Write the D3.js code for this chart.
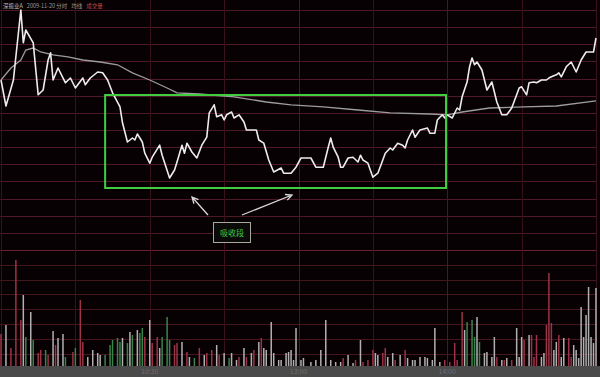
<!DOCTYPE html>
<html>
<head>
<meta charset="utf-8">
<script src="https://cdn.jsdelivr.net/npm/d3@7/dist/d3.min.js"></script>
<style>
  html, body { margin: 0; padding: 0; background: #070104; }
  svg { display: block; }
  text { font-family: "Noto Sans CJK SC", "Noto Sans", sans-serif; }
</style>
</head>
<body>
<svg id="chart" width="600" height="377"></svg>
<script>
const svg = d3.select("svg"),
    width = +svg.attr("width"),
    height = +svg.attr("height");

// intraday price, minute of session (0..240) and % change from prior close
const priceMinute = [0,2,5,8,9,10,13,15,17,19,20,21,23,26,28,30,33,34,36,39,41,43,45,48,49,51,53,54,55,57,58,60,61,64,65,68,70,71,73,74,75,77,79,81,83,84,86,87,89,90,91,93,94,96,98,99,103,104,106,108,110,113,114,117,119,121,123,125,127,130,132,133,134,136,137,138,140,142,144,145,146,148,150,152,154,155,157,158,160,162,163,164,166,167,169,172,173,175,176,178,179,180,182,184,185,186,188,189,190,191,192,194,196,198,199,200,202,204,206,208,209,210,212,213,215,216,218,220,221,222,224,225,226,228,230,232,234,236,239,240];
const priceValue = [1.25,0.60,1.25,3.00,2.18,2.50,2.18,0.88,1.00,1.75,1.93,1.25,1.55,1.18,1.30,1.05,1.30,1.13,1.30,1.45,1.43,1.25,0.93,0.58,0.18,-0.30,-0.20,-0.25,-0.10,-0.30,-0.58,-0.83,-0.68,-0.38,-0.63,-1.20,-1.00,-0.80,-0.38,-0.58,-0.33,-0.55,-0.70,-0.38,-0.18,0.43,0.63,0.33,0.38,0.25,0.38,0.45,0.30,0.38,0.20,0.00,0.00,-0.25,-0.33,-0.75,-1.05,-0.95,-1.08,-1.08,-0.93,-0.70,-0.70,-0.70,-0.93,-0.93,-0.43,-0.20,-0.43,-0.68,-0.93,-0.93,-0.70,-0.68,-0.80,-0.63,-0.75,-0.83,-1.18,-1.08,-0.75,-0.58,-0.45,-0.50,-0.33,-0.38,-0.45,-0.25,0.00,-0.18,0.00,0.05,-0.08,-0.08,0.25,0.38,0.30,0.38,0.30,0.55,0.50,0.83,1.20,1.58,1.80,1.63,1.70,1.50,1.00,1.20,0.95,0.70,0.38,0.38,0.55,0.88,1.05,1.08,0.88,1.18,1.20,1.18,1.25,1.25,1.30,1.33,1.38,1.43,1.33,1.58,1.70,1.45,1.75,1.95,1.95,2.30];

// average price line
const avgMinute = [0,4,8,10,13,16,21,27,33,40,47,53,60,67,71,80,94,107,117,130,144,157,173,180,186,197,211,224,240];
const avgValue = [1.25,1.55,1.75,2.00,2.05,1.95,1.88,1.83,1.75,1.70,1.63,1.43,1.25,1.05,0.93,0.90,0.83,0.70,0.63,0.58,0.50,0.43,0.40,0.38,0.45,0.55,0.58,0.60,0.73];

// volume bars: minute, volume, colour (r = up, g = down, w = flat)
const volMinute = [0,2,4,6,8,9,10,12,13,15,16,18,19,21,22,23,25,26,29,30,32,33,35,37,39,40,42,44,45,47,48,49,51,52,53,55,56,57,58,60,61,63,64,65,67,68,70,71,73,75,76,78,80,82,83,85,87,88,90,92,93,95,96,98,99,101,102,104,105,106,107,109,110,112,113,115,116,117,118,119,121,122,125,127,129,131,133,135,137,138,140,142,143,145,146,148,150,151,152,154,155,156,158,159,161,163,164,166,167,169,171,172,174,175,177,179,181,183,184,186,187,188,190,191,192,193,195,196,198,199,200,202,203,204,206,208,209,210,211,213,214,215,216,218,219,220,221,222,223,224,225,226,227,229,230,231,232,233,234,235,236,237,238,239,240];
const volValue = [32,41,18,106,46,71,29,54,26,13,16,16,11,35,21,28,32,9,14,18,66,24,9,16,13,11,11,21,26,28,24,28,23,34,31,36,33,38,29,46,23,29,18,29,49,26,21,23,24,14,9,8,18,11,13,16,21,11,13,8,13,6,9,18,9,13,16,24,28,18,16,44,13,6,6,13,14,16,6,38,6,8,4,6,16,46,6,4,4,8,11,3,6,26,4,6,16,13,11,13,18,9,13,6,11,16,8,6,6,9,9,8,6,38,4,6,4,23,6,54,36,44,46,29,49,24,13,14,9,29,9,6,6,8,6,38,9,29,26,31,31,9,31,9,13,41,93,43,16,24,31,9,28,28,9,21,16,8,59,29,51,79,29,23,78];
const volColor = "rwrrrwgwgrrgrwrwwgrgrrwwwwgggggwgwgwggrwrrwgggrrwrwgrwrrwrwgwwrwrwrwrwwwwwwwwwwwwwwwwwwwwrwwrwrrrwwrrwwrwrwwwwwwwwwrrrrrwgggwgwwwwrwrwrwwwrwrrrwwrrrwwrwwrrwwwww";

// time axis labels
const timeTicks = [60, 120, 180];
const timeLabels = ["10:30", "13:00", "14:00"];

// header
const headerParts = ["深振业A", "2009-11-20 分时", "均线", "成交量"];

// consolidation box (minutes / %), note label
const boxMinutes = [42, 179.5];
const boxValues = [0.875, -1.45];
const noteText = "吸收段";

const x = d3.scaleLinear().domain([0, 240]).range([1, 596]);
const y = d3.scaleLinear().domain([-3, 3]).range([250, 10]);
const yVol = d3.scaleLinear().domain([0, 116]).range([366, 250]);

svg.append("rect")
    .attr("width", width).attr("height", height)
    .attr("fill", "#070104");

const gGrid = svg.append("g");
const gVol = svg.append("g");
const gLines = svg.append("g");
const gNote = svg.append("g");

// horizontal grid, price pane
gGrid.selectAll(".hp")
    .data(d3.range(15).map(i => -3 + i * 6 / 14))
    .enter().append("line")
    .attr("x1", 0).attr("x2", 597)
    .attr("y1", d => Math.round(y(d)) + 0.5).attr("y2", d => Math.round(y(d)) + 0.5)
    .attr("stroke", (d, i) => i == 0 ? "#6a2232" : "#4e1926")
    .attr("stroke-width", 1);

// horizontal grid, volume pane
gGrid.selectAll(".hv")
    .data(d3.range(1, 8).map(k => 116 - k * 14.8))
    .enter().append("line")
    .attr("x1", 0).attr("x2", 597)
    .attr("y1", d => Math.round(yVol(d)) + 0.5).attr("y2", d => Math.round(yVol(d)) + 0.5)
    .attr("stroke", "#46161f")
    .attr("stroke-width", 1);

// vertical grid
gGrid.selectAll(".v")
    .data(d3.range(0, 241, 30))
    .enter().append("line")
    .attr("x1", d => Math.round(x(d)) + 0.5).attr("x2", d => Math.round(x(d)) + 0.5)
    .attr("y1", 0).attr("y2", 366)
    .attr("stroke", d => (d == 120 || d == 180) ? "#4a1822" : "#38111b")
    .attr("stroke-width", 1);

// volume
gVol.selectAll("rect")
    .data(volMinute.map((m, i) => ({m: m, v: volValue[i], c: volColor[i]})))
    .enter().append("rect")
    .attr("x", d => x(d.m) - 0.75)
    .attr("width", 1.5)
    .attr("y", d => yVol(d.v))
    .attr("height", d => yVol(0) - yVol(d.v))
    .attr("fill", d => d.c == "r" ? "#9a3446" : d.c == "g" ? "#3a844b" : "#b0b0b0");

// bottom time strip
svg.append("rect")
    .attr("x", 0).attr("y", 366).attr("width", width).attr("height", 11)
    .attr("fill", "#4a4a4a");
svg.selectAll(".tl")
    .data(timeTicks)
    .enter().append("text")
    .attr("x", d => x(d)).attr("y", 374)
    .attr("text-anchor", "middle")
    .attr("font-size", 7)
    .attr("fill", "#6e6e6e")
    .text((d, i) => timeLabels[i]);

// average and price lines
const line = d3.line().x(d => x(d[0])).y(d => y(d[1]));
gLines.append("path")
    .datum(avgMinute.map((m, i) => [m, avgValue[i]]))
    .attr("d", line)
    .attr("fill", "none")
    .attr("stroke", "#9c9c9c")
    .attr("stroke-width", 1.3);

gLines.append("path")
    .datum(priceMinute.map((m, i) => [m, priceValue[i]]))
    .attr("d", line)
    .attr("fill", "none")
    .attr("stroke", "#ececec")
    .attr("stroke-width", 1.6)
    .attr("stroke-linejoin", "round");

// green consolidation box
gNote.append("rect")
    .attr("x", x(boxMinutes[0])).attr("y", y(boxValues[0]))
    .attr("width", x(boxMinutes[1]) - x(boxMinutes[0]))
    .attr("height", y(boxValues[1]) - y(boxValues[0]))
    .attr("fill", "none")
    .attr("stroke", "#42cc42")
    .attr("stroke-width", 2);

// arrows pointing at the box
function arrow(x1, y1, x2, y2) {
  const a = Math.atan2(y2 - y1, x2 - x1), L = 7;
  gNote.append("path")
      .attr("d", `M${x1},${y1}L${x2},${y2}` +
        `M${x2 - L * Math.cos(a - 0.45)},${y2 - L * Math.sin(a - 0.45)}L${x2},${y2}` +
        `L${x2 - L * Math.cos(a + 0.45)},${y2 - L * Math.sin(a + 0.45)}`)
      .attr("fill", "none")
      .attr("stroke", "#d8d8d8")
      .attr("stroke-width", 1.3);
}
arrow(208, 215, 192, 197);
arrow(242, 215, 292, 195);

// note label
gNote.append("rect")
    .attr("x", 213.5).attr("y", 222.5).attr("width", 37).attr("height", 20)
    .attr("fill", "#0a0a08")
    .attr("stroke", "#a8a8a0")
    .attr("stroke-width", 1);
gNote.append("text")
    .attr("x", 232).attr("y", 235.5)
    .attr("text-anchor", "middle")
    .attr("font-size", 8)
    .attr("fill", "#45c845")
    .text(noteText);

// header text, laid out one part after another
const hc = ["#bdbdbd", "#9a9a9a", "#9a9a9a", "#b84a4a"];
let hx = 3;
headerParts.forEach((t, i) => {
  const el = svg.append("text")
      .attr("x", hx).attr("y", 8)
      .attr("font-size", 5.5)
      .attr("fill", hc[i])
      .text(t);
  hx += el.node().getComputedTextLength() + 4;
});
</script>
</body>
</html>
